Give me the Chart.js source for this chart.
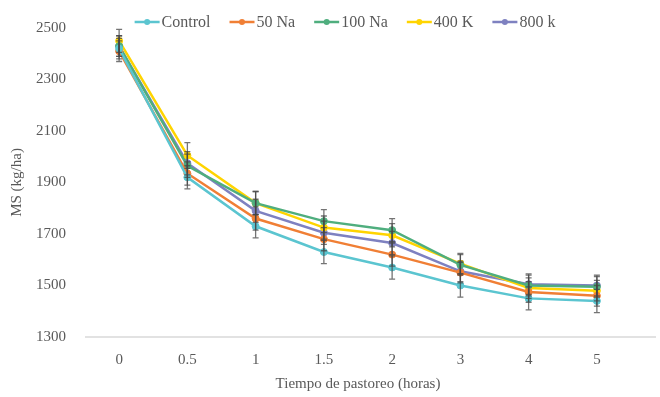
<!DOCTYPE html>
<html lang="es">
<head>
    <meta charset="UTF-8">
    <title>MS vs tiempo de pastoreo</title>
    <script src="https://cdn.jsdelivr.net/npm/chart.js"></script>
    <style>
        body { margin: 0; background: #fff; }
        #wrap { width: 660px; height: 397px; }
    </style>
</head>
<body>
    <div id="wrap"><canvas id="msChart" width="660" height="397"></canvas></div>

    <script>
        // categories (hours of grazing)
        const horas = ['0', '0.5', '1', '1.5', '2', '3', '4', '5'];

        // series values (kg/ha)
        const control = [2420, 1920, 1730, 1630, 1570, 1500, 1450, 1440];
        const na50    = [2410, 1935, 1760, 1680, 1620, 1550, 1475, 1460];
        const na100   = [2430, 1965, 1820, 1750, 1715, 1580, 1500, 1495];
        const k400    = [2450, 2005, 1820, 1725, 1695, 1585, 1490, 1480];
        const k800    = [2430, 1975, 1790, 1705, 1665, 1555, 1505, 1500];

        // error bar half-heights
        const errControl = [40, 45, 45, 45, 45, 45, 45, 45];
        const errNa50    = [40, 45, 45, 45, 45, 40, 40, 40];
        const errNa100   = [40, 45, 45, 45, 45, 40, 40, 40];
        const errK400    = [45, 50, 45, 45, 45, 40, 40, 40];
        const errK800    = [40, 45, 45, 45, 45, 40, 40, 40];

        const yTicks = [1300, 1500, 1700, 1900, 2100, 2300, 2500];

        const serif = "'Liberation Serif', 'DejaVu Serif', serif";
        const textColor = '#595959';

        function serie(label, data, err, color) {
            return {
                label: label,
                data: data,
                err: err,
                borderColor: color,
                backgroundColor: color,
                borderWidth: 2.5,
                pointRadius: 3.5,
                pointHoverRadius: 3.5,
                pointBorderWidth: 1,
                tension: 0
            };
        }

        // light grey base line, runs past the last category like the original
        const baseLine = {
            id: 'baseLine',
            beforeDatasetsDraw(chart) {
                const ctx = chart.ctx;
                const a = chart.chartArea;
                ctx.save();
                ctx.strokeStyle = '#D9D9D9';
                ctx.lineWidth = 1.5;
                ctx.beginPath();
                ctx.moveTo(a.left, a.bottom);
                ctx.lineTo(656, a.bottom);
                ctx.stroke();
                ctx.restore();
            }
        };

        // draws the vertical error bars with caps
        const errorBars = {
            id: 'errorBars',
            afterDatasetsDraw(chart) {
                const ctx = chart.ctx;
                const y = chart.scales.y;
                ctx.save();
                ctx.strokeStyle = 'rgba(70,70,70,0.75)';
                ctx.lineWidth = 1.3;
                chart.data.datasets.forEach((ds, i) => {
                    const meta = chart.getDatasetMeta(i);
                    meta.data.forEach((pt, j) => {
                        const v = ds.data[j];
                        const e = ds.err[j];
                        const top = y.getPixelForValue(v + e);
                        const bot = y.getPixelForValue(v - e);
                        ctx.beginPath();
                        ctx.moveTo(pt.x, top);
                        ctx.lineTo(pt.x, bot);
                        ctx.moveTo(pt.x - 3, top);
                        ctx.lineTo(pt.x + 3, top);
                        ctx.moveTo(pt.x - 3, bot);
                        ctx.lineTo(pt.x + 3, bot);
                        ctx.stroke();
                    });
                });
                ctx.restore();
            }
        };

        // legend drawn on top of the plot, like the original
        const topLegend = {
            id: 'topLegend',
            afterDraw(chart) {
                const ctx = chart.ctx;
                ctx.save();
                ctx.font = '16px ' + serif;
                ctx.textBaseline = 'middle';
                const lineLen = 25, gapText = 2, gapItem = 19;
                const items = chart.data.datasets.map(ds => ({
                    ds: ds, w: lineLen + gapText + ctx.measureText(ds.label).width
                }));
                const total = items.reduce((a, it) => a + it.w, 0) + gapItem * (items.length - 1);
                let x = 345 - total / 2;
                const yy = 22;
                items.forEach(it => {
                    ctx.strokeStyle = it.ds.borderColor;
                    ctx.lineWidth = 2.5;
                    ctx.beginPath();
                    ctx.moveTo(x, yy);
                    ctx.lineTo(x + lineLen, yy);
                    ctx.stroke();
                    ctx.fillStyle = it.ds.borderColor;
                    ctx.beginPath();
                    ctx.arc(x + lineLen / 2, yy, 3, 0, Math.PI * 2);
                    ctx.fill();
                    ctx.fillStyle = textColor;
                    ctx.fillText(it.ds.label, x + lineLen + gapText, yy + 1);
                    x += it.w + gapItem;
                });
                ctx.restore();
            }
        };

        new Chart(document.getElementById('msChart'), {
            type: 'line',
            data: {
                labels: horas,
                datasets: [
                    serie('Control', control, errControl, '#5BC5D0'),
                    serie('50 Na', na50, errNa50, '#F07F35'),
                    serie('100 Na', na100, errNa100, '#4FAE7E'),
                    serie('400 K', k400, errK400, '#FFD400'),
                    serie('800 k', k800, errK800, '#7E81C0')
                ]
            },
            options: {
                responsive: false,
                animation: false,
                layout: { padding: { top: 26, right: 29, left: 0, bottom: 0 } },
                plugins: {
                    legend: { display: false },
                    tooltip: { enabled: false }
                },
                scales: {
                    x: {
                        offset: true,
                        grid: { display: false, drawTicks: false },
                        border: { display: false },
                        ticks: { color: textColor, font: { family: serif, size: 15 }, padding: 14 },
                        title: {
                            display: true,
                            text: 'Tiempo de pastoreo (horas)',
                            color: textColor,
                            font: { family: serif, size: 15 },
                            padding: { top: 2, bottom: 4 }
                        },
                        afterFit(s) { s.height = 60; }
                    },
                    y: {
                        min: 1300,
                        max: 2500,
                        afterBuildTicks(s) { s.ticks = yTicks.map(v => ({ value: v })); },
                        grid: { display: false, drawTicks: false },
                        border: { display: false },
                        ticks: {
                            color: textColor,
                            font: { family: serif, size: 15 },
                            padding: 19,
                            callback: v => String(v)
                        },
                        title: {
                            display: true,
                            text: 'MS (kg/ha)',
                            color: textColor,
                            font: { family: serif, size: 15 },
                            padding: { top: 8, bottom: 0 }
                        },
                        afterFit(s) { s.width = 85; }
                    }
                }
            },
            plugins: [baseLine, errorBars, topLegend]
        });
    </script>
</body>
</html>
